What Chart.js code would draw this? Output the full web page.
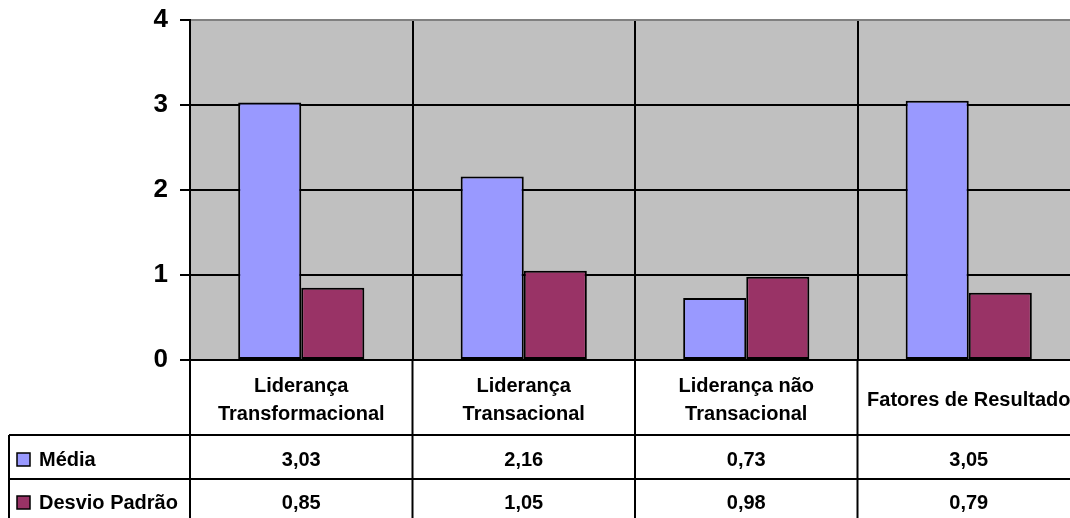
<!DOCTYPE html>
<html>
<head>
<meta charset="utf-8">
<script src="https://cdn.jsdelivr.net/npm/chart.js@4.4.1/dist/chart.umd.min.js"></script>
<style>
  html, body { margin: 0; padding: 0; background: #fff; overflow: hidden; }
  #wrap { width: 1080px; height: 518px; }
</style>
</head>
<body>
<div id="wrap"><canvas id="c" width="1080" height="518"></canvas></div>
<script>
// Categories (multi-line labels shown in the data table)
const categories = [
  ['Liderança', 'Transformacional'],
  ['Liderança', 'Transacional'],
  ['Liderança não', 'Transacional'],
  ['Fatores de Resultado']
];
const seriesNames = ['Média', 'Desvio Padrão'];
const mediaValues = [3.03, 2.16, 0.73, 3.05];
const desvioValues = [0.85, 1.05, 0.98, 0.79];
const yTicks = [0, 1, 2, 3, 4];

const colors = ['#9999FF', '#993366'];
const FONT = '"Liberation Sans", Arial, sans-serif';

const fmt = v => v.toFixed(2).replace('.', ',');

// Grey plot background
const plotBg = {
  id: 'plotBg',
  beforeDraw(chart) {
    const { ctx, chartArea: a } = chart;
    ctx.save();
    ctx.fillStyle = '#C0C0C0';
    ctx.fillRect(a.left, a.top, a.right - a.left, a.bottom - a.top);
    ctx.restore();
  }
};

// Data table under the plot: category labels, legend keys and values
const dataTable = {
  id: 'dataTable',
  afterDraw(chart) {
    const { ctx, chartArea: a } = chart;
    const x = chart.scales.x;
    const n = categories.length;
    const colW = (x.right - x.left) / n;
    const rowTop = a.bottom;          // 360
    const row1 = rowTop + 75;         // 435
    const row2 = row1 + 44;           // 479
    const row3 = row2 + 44;           // 523
    const legendLeft = 9;

    ctx.save();
    ctx.strokeStyle = '#000';
    ctx.lineWidth = 2;

    // horizontal rules
    [row1, row2, row3].forEach(y => {
      ctx.beginPath();
      ctx.moveTo(legendLeft, y);
      ctx.lineTo(x.right, y);
      ctx.stroke();
    });
    // vertical rules
    for (let i = 0; i <= n; i++) {
      const px = x.left + i * colW;
      ctx.beginPath();
      ctx.moveTo(px, rowTop);
      ctx.lineTo(px, row3);
      ctx.stroke();
    }
    ctx.beginPath();
    ctx.moveTo(legendLeft, row1);
    ctx.lineTo(legendLeft, row3);
    ctx.stroke();

    ctx.fillStyle = '#000';
    ctx.font = 'bold 20px ' + FONT;
    ctx.textAlign = 'center';
    ctx.textBaseline = 'middle';

    // category labels
    categories.forEach((lines, i) => {
      const cx = x.left + (i + 0.5) * colW;
      const lh = 28;
      const cy = (rowTop + row1) / 2 + 3;
      const y0 = cy - (lines.length - 1) * lh / 2;
      lines.forEach((t, k) => ctx.fillText(t, cx, y0 + k * lh));
    });

    // value rows
    const rows = [mediaValues, desvioValues];
    const rowYs = [row1 + 25, row2 + 24];
    rows.forEach((vals, r) => {
      vals.forEach((v, i) => {
        const cx = x.left + (i + 0.5) * colW;
        ctx.fillText(fmt(v), cx, rowYs[r]);
      });
      // legend key
      const ky = rowYs[r];
      ctx.fillStyle = colors[r];
      ctx.fillRect(17, ky - 7, 13, 13);
      ctx.lineWidth = 1.5;
      ctx.strokeRect(17, ky - 7, 13, 13);
      ctx.fillStyle = '#000';
      ctx.textAlign = 'left';
      ctx.fillText(seriesNames[r], 39, ky);
      ctx.textAlign = 'center';
    });
    ctx.restore();
  }
};

new Chart(document.getElementById('c'), {
  type: 'bar',
  data: {
    labels: categories,
    datasets: [
      { label: seriesNames[0], data: mediaValues, backgroundColor: colors[0] },
      { label: seriesNames[1], data: desvioValues, backgroundColor: colors[1] }
    ]
  },
  options: {
    responsive: false,
    animation: false,
    devicePixelRatio: 1,
    layout: { padding: { top: 20, left: 0, right: 0, bottom: 0 } },
    datasets: {
      bar: {
        categoryPercentage: 0.567,
        barPercentage: 1.0,
        borderColor: '#000',
        borderWidth: 2,
        borderSkipped: false
      }
    },
    plugins: {
      legend: { display: false },
      tooltip: { enabled: false }
    },
    scales: {
      x: {
        offset: true,
        grid: { offset: true, color: '#000', lineWidth: 2, drawTicks: false },
        border: { color: '#000', width: 2 },
        ticks: { display: false },
        afterFit(s) { s.height = 158; s.paddingLeft = 0; s.paddingRight = 0; }
      },
      y: {
        min: 0,
        max: 4,
        afterBuildTicks(s) { s.ticks = yTicks.map(v => ({ value: v })); },
        ticks: {
          padding: 12,
          color: '#000',
          font: { family: FONT, size: 26, weight: 'bold' }
        },
        grid: {
          color: ctx => (ctx.tick && ctx.tick.value === 4 ? '#808080' : '#000'),
          lineWidth: 2,
          tickLength: 10,
          tickColor: '#000',
          drawTicks: true
        },
        border: { color: '#000', width: 2 },
        afterFit(s) { s.width = 190; s.paddingTop = 0; s.paddingBottom = 0; }
      }
    }
  },
  plugins: [plotBg, dataTable]
});
</script>
</body>
</html>
